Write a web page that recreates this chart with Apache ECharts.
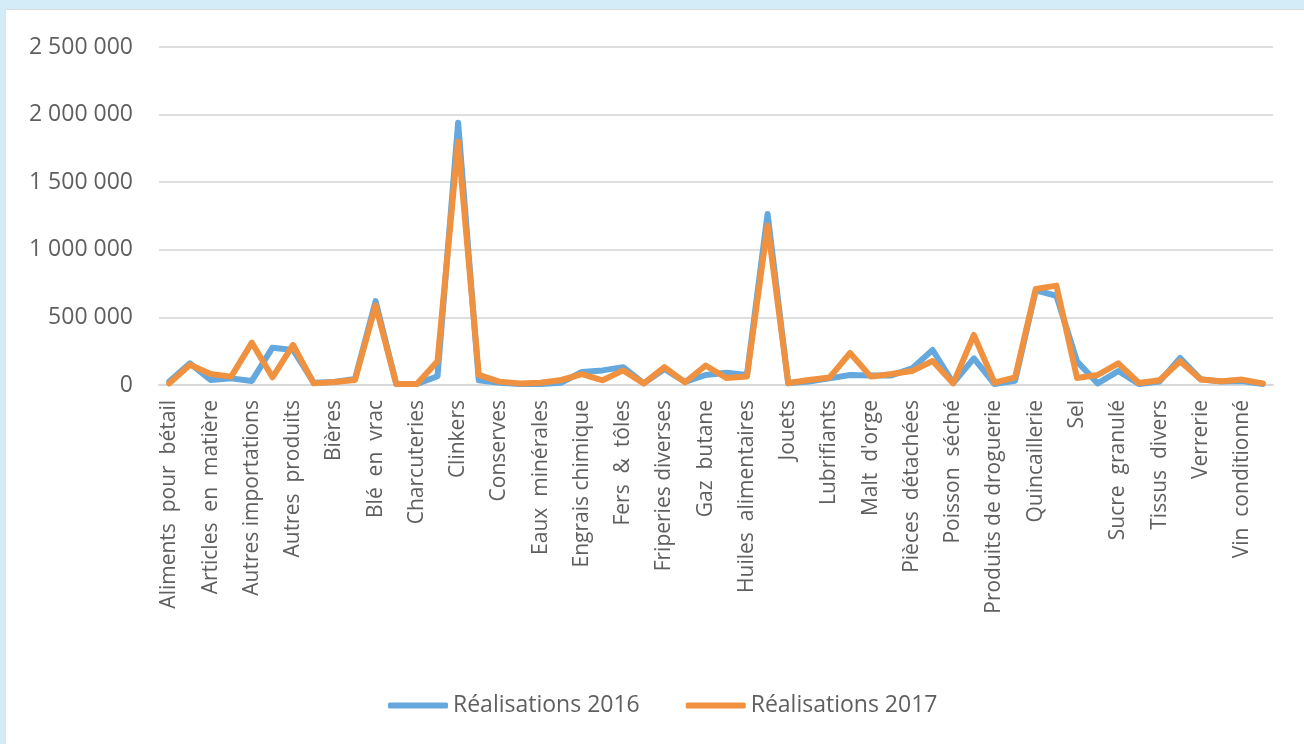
<!DOCTYPE html>
<html lang="fr">
<head>
<meta charset="utf-8">
<title>Réalisations 2016 / 2017</title>
<script src="https://cdn.jsdelivr.net/npm/echarts@6/dist/echarts.min.js"></script>
<style>
  html, body { margin: 0; padding: 0; width: 1304px; height: 744px; overflow: hidden; background: #d4ecf8; }
  #panel { position: absolute; left: 5px; top: 9px; right: 0; bottom: 0; background: #ffffff;
           border-top: 1px solid #dcdcdc; border-left: 1px solid #dfe6ea; }
  #chart { position: absolute; left: 0; top: 0; width: 1304px; height: 744px; }
</style>
</head>
<body>
<div id="panel"></div>
<div id="chart"></div>
<script>
// Produits (ordre alphabétique), un libellé sur deux est affiché sur l'axe
const categories = [
  'Aliments  pour  bétail', 'Appareils électriques', 'Articles  en  matière', 'Articles ménagers',
  'Autres importations', 'Autres marchandises', 'Autres  produits', 'Beurre',
  'Bières', 'Biscuits', 'Blé  en  vrac', 'Café',
  'Charcuteries', 'Ciment', 'Clinkers', 'Confiseries',
  'Conserves', 'Cosmétiques', 'Eaux  minérales', 'Emballages',
  'Engrais chimique', 'Farine', 'Fers  &  tôles', 'Fournitures scolaires',
  'Friperies diverses', 'Fruits et légumes', 'Gaz  butane', 'Habillement',
  'Huiles  alimentaires', 'Hydrocarbures', 'Jouets', 'Lait en poudre',
  'Lubrifiants', 'Machines', "Malt  d'orge", 'Matériaux de construction',
  'Pièces  détachées', 'Pneumatiques', 'Poisson  séché', 'Produits alimentaires',
  'Produits de droguerie', 'Produits pharmaceutiques', 'Quincaillerie', 'Riz',
  'Sel', 'Sirops', 'Sucre  granulé', 'Tabac',
  'Tissus  divers', 'Véhicules', 'Verrerie', 'Viandes',
  'Vin  conditionné', 'Volailles'
];

const realisations2016 = [
  25000, 160000, 37000, 49000, 30000, 276000, 259000, 17000,
  22000, 44000, 620000, 7000, 7000, 65000, 1940000, 35000,
  17000, 7000, 7000, 17000, 96000, 108000, 132000, 12000,
  118000, 22000, 74000, 91000, 74000, 1265000, 12000, 25000,
  49000, 74000, 71000, 71000, 123000, 259000, 15000, 197000,
  7000, 32000, 700000, 660000, 175000, 12000, 103000, 7000,
  25000, 200000, 42000, 25000, 30000, 7000
];

const realisations2017 = [
  12000, 150000, 81000, 62000, 313000, 57000, 296000, 12000,
  22000, 37000, 590000, 7000, 7000, 175000, 1800000, 75000,
  25000, 12000, 17000, 37000, 80000, 35000, 108000, 12000,
  132000, 20000, 144000, 52000, 62000, 1180000, 15000, 37000,
  55000, 237000, 62000, 81000, 104000, 177000, 12000, 370000,
  17000, 57000, 710000, 735000, 52000, 74000, 160000, 15000,
  35000, 176000, 40000, 28000, 40000, 12000
];

const seriesNames = ['Réalisations 2016', 'Réalisations 2017'];
const seriesColors = ['#64a8dd', '#f0913f'];

const FONT = '"Open Sans", "Noto Sans", sans-serif';
const TEXT = '#5f5f5f';

// Séparateur de milliers : espace
function formatThousands(v) {
  return String(v).replace(/\B(?=(\d{3})+(?!\d))/g, ' ');
}

const chart = echarts.init(document.getElementById('chart'), null, { renderer: 'canvas' });

function lineSeries(name, data, color) {
  return {
    name: name,
    type: 'line',
    data: data,
    symbol: 'none',
    smooth: false,
    lineStyle: { color: color, width: 6, join: 'round', cap: 'round' },
    itemStyle: { color: color },
    emphasis: { disabled: true }
  };
}

chart.setOption({
  animation: false,
  backgroundColor: 'transparent',
  textStyle: { fontFamily: FONT },
  grid: { left: 159, right: 31, top: 47, bottom: 359, containLabel: false },
  legend: {
    left: 383,
    top: 689,
    itemWidth: 60,
    itemHeight: 6,
    itemGap: 46,
    icon: 'roundRect',
    textStyle: { fontFamily: FONT, fontSize: 23, color: TEXT },
    data: seriesNames
  },
  xAxis: {
    type: 'category',
    data: categories,
    boundaryGap: true,
    axisLine: { show: true, lineStyle: { color: '#d9d9d9', width: 2 } },
    axisTick: { show: false },
    axisLabel: {
      interval: 1,
      rotate: 90,
      margin: 15,
      fontFamily: FONT,
      fontSize: 21,
      color: TEXT
    },
    splitLine: { show: false }
  },
  yAxis: {
    type: 'value',
    min: 0,
    max: 2500000,
    interval: 500000,
    axisLine: { show: false },
    axisTick: { show: false },
    axisLabel: {
      margin: 26,
      fontFamily: FONT,
      fontSize: 23,
      color: TEXT,
      padding: [4, 0, 0, 0],
      formatter: formatThousands
    },
    splitLine: { lineStyle: { color: '#dedede', width: 2 } }
  },
  series: [
    lineSeries(seriesNames[0], realisations2016, seriesColors[0]),
    lineSeries(seriesNames[1], realisations2017, seriesColors[1])
  ]
});
</script>
</body>
</html>
